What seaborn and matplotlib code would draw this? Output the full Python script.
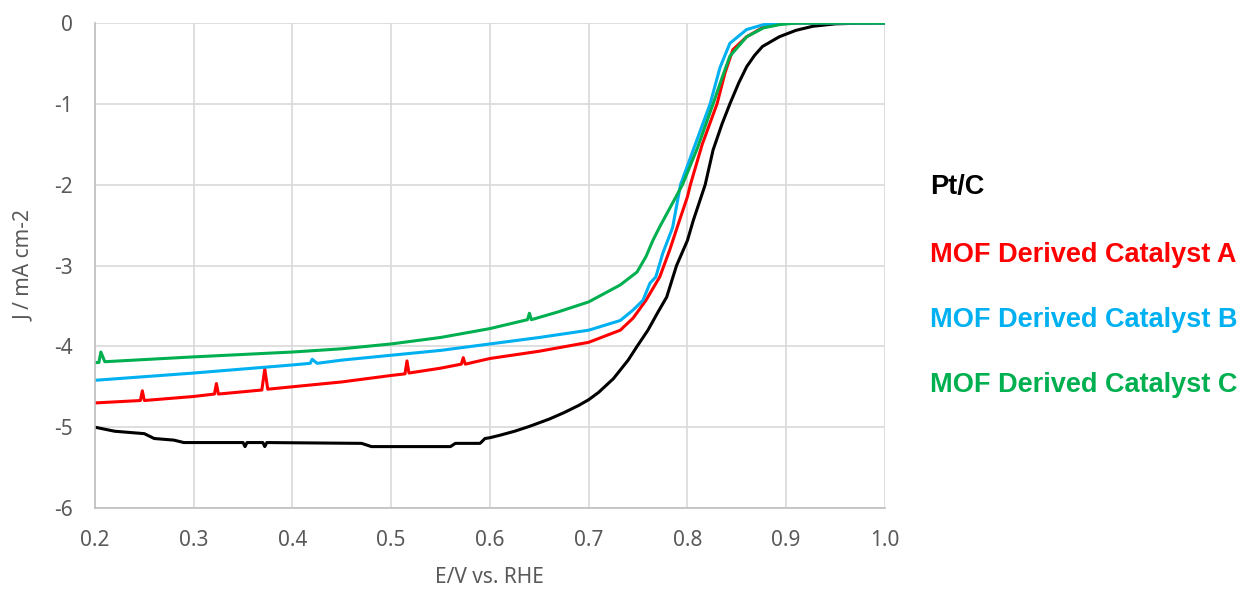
import matplotlib
matplotlib.use("Agg")
import matplotlib.pyplot as plt
import seaborn as sns
import pandas as pd

# Pt/C
pt_x = [0.200, 0.220, 0.240, 0.250, 0.260, 0.280, 0.290, 0.350, 0.352, 0.354, 0.370, 0.372,
        0.374, 0.470, 0.480, 0.560, 0.565, 0.590, 0.595, 0.600, 0.610, 0.625, 0.640, 0.660,
        0.675, 0.690, 0.700, 0.710, 0.725, 0.740, 0.749, 0.760, 0.770, 0.779, 0.789, 0.800,
        0.806, 0.818, 0.826, 0.835, 0.843, 0.852, 0.860, 0.868, 0.876, 0.893, 0.910, 0.927,
        0.950, 0.970, 1.000]
pt_y = [-5.00, -5.05, -5.07, -5.08, -5.14, -5.16, -5.19, -5.19, -5.24, -5.19, -5.19, -5.24,
        -5.19, -5.20, -5.24, -5.24, -5.20, -5.20, -5.14, -5.13, -5.10, -5.05, -4.99, -4.90,
        -4.82, -4.73, -4.66, -4.57, -4.40, -4.17, -4.00, -3.80, -3.58, -3.39, -3.00, -2.69,
        -2.44, -2.00, -1.57, -1.25, -1.00, -0.74, -0.54, -0.40, -0.29, -0.17, -0.09, -0.04,
        -0.01, -0.003, 0.0]

# MOF Derived Catalyst A
a_x = [0.200, 0.246, 0.248, 0.250, 0.300, 0.321, 0.323, 0.325, 0.369, 0.372, 0.375, 0.400,
       0.450, 0.500, 0.514, 0.516, 0.518, 0.550, 0.571, 0.573, 0.575, 0.600, 0.650, 0.700,
       0.732, 0.745, 0.758, 0.772, 0.782, 0.792, 0.800, 0.803, 0.815, 0.830, 0.838, 0.846,
       0.860, 0.877, 0.900, 1.000]
a_y = [-4.70, -4.67, -4.55, -4.67, -4.62, -4.59, -4.46, -4.59, -4.54, -4.28, -4.53, -4.50,
       -4.44, -4.36, -4.34, -4.18, -4.33, -4.27, -4.22, -4.14, -4.22, -4.15, -4.06, -3.95,
       -3.80, -3.65, -3.43, -3.14, -2.81, -2.44, -2.15, -2.00, -1.50, -1.00, -0.62, -0.33,
       -0.17, -0.05, 0.0, 0.0]

# MOF Derived Catalyst B
b_x = [0.200, 0.300, 0.400, 0.418, 0.420, 0.425, 0.450, 0.500, 0.550, 0.600, 0.650, 0.700,
       0.732, 0.745, 0.755, 0.762, 0.768, 0.775, 0.785, 0.793, 0.808, 0.823, 0.833, 0.843,
       0.860, 0.877, 0.900, 1.000]
b_y = [-4.42, -4.33, -4.23, -4.21, -4.16, -4.21, -4.17, -4.11, -4.05, -3.97, -3.89, -3.80,
       -3.68, -3.55, -3.43, -3.22, -3.14, -2.85, -2.53, -2.00, -1.50, -1.00, -0.55, -0.25,
       -0.08, -0.02, 0.0, 0.0]

# MOF Derived Catalyst C
c_x = [0.200, 0.204, 0.206, 0.210, 0.300, 0.400, 0.450, 0.500, 0.550, 0.600, 0.638, 0.640,
       0.642, 0.670, 0.700, 0.732, 0.749, 0.758, 0.765, 0.772, 0.795, 0.810, 0.826, 0.835,
       0.843, 0.860, 0.877, 0.893, 0.910, 1.000]
c_y = [-4.20, -4.20, -4.07, -4.19, -4.13, -4.07, -4.03, -3.97, -3.89, -3.78, -3.67, -3.59,
       -3.67, -3.57, -3.45, -3.24, -3.08, -2.89, -2.69, -2.52, -2.00, -1.55, -1.00, -0.68,
       -0.41, -0.17, -0.06, -0.02, 0.0, 0.0]

labels = ["Pt/C", "MOF Derived Catalyst A", "MOF Derived Catalyst B", "MOF Derived Catalyst C"]
colors = ["#000000", "#FF0000", "#00B0F0", "#00B050"]

frames = []
for lbl, xs, ys in zip(labels, [pt_x, a_x, b_x, c_x], [pt_y, a_y, b_y, c_y]):
    frames.append(pd.DataFrame({"E": xs, "J": ys, "sample": lbl}))
df = pd.concat(frames, ignore_index=True)

sns.set_style("white")
plt.rcParams["font.family"] = ["Noto Sans", "DejaVu Sans"]

fig = plt.figure(figsize=(12.46, 5.91), dpi=100)
ax = fig.add_axes([0.0762, 0.1404, 0.6340, 0.8206])

sns.lineplot(data=df, x="E", y="J", hue="sample", palette=colors, hue_order=labels,
             linewidth=2.2, sort=False, estimator=None, legend=False, ax=ax)

ax.set_xlim(0.2, 1.0)
ax.set_ylim(-6, 0)
ax.set_xticks([0.2, 0.3, 0.4, 0.5, 0.6, 0.7, 0.8, 0.9, 1.0])
ax.set_xticklabels(["0.2", "0.3", "0.4", "0.5", "0.6", "0.7", "0.8", "0.9", "1.0"])
ax.set_yticks([0, -1, -2, -3, -4, -5, -6])
ax.set_yticklabels(["0", "-1", "-2", "-3", "-4", "-5", "-6"])
ax.grid(True, color="#D9D9D9", linewidth=1.2)
ax.set_axisbelow(True)
for side in ["top", "right"]:
    ax.spines[side].set_visible(False)
for side in ["left", "bottom"]:
    ax.spines[side].set_color("#BFBFBF")
    ax.spines[side].set_linewidth(1.2)
ax.tick_params(axis="both", length=0, labelsize=15, colors="#595959", pad=16)
ax.set_xlabel("E/V vs. RHE", fontsize=15, color="#595959", labelpad=11)
ax.set_ylabel("J / mA cm-2", fontsize=15, color="#595959", labelpad=14)

legend_y = [187, 255, 320, 385]
for lbl, col, yp in zip(labels, colors, legend_y):
    fig.text(930 / 1246, 1 - yp / 591, lbl, color=col, fontsize=19.5, fontweight="bold",
             family=["Liberation Sans", "DejaVu Sans"], va="center", ha="left")

fig.savefig("out.png", dpi=100)
